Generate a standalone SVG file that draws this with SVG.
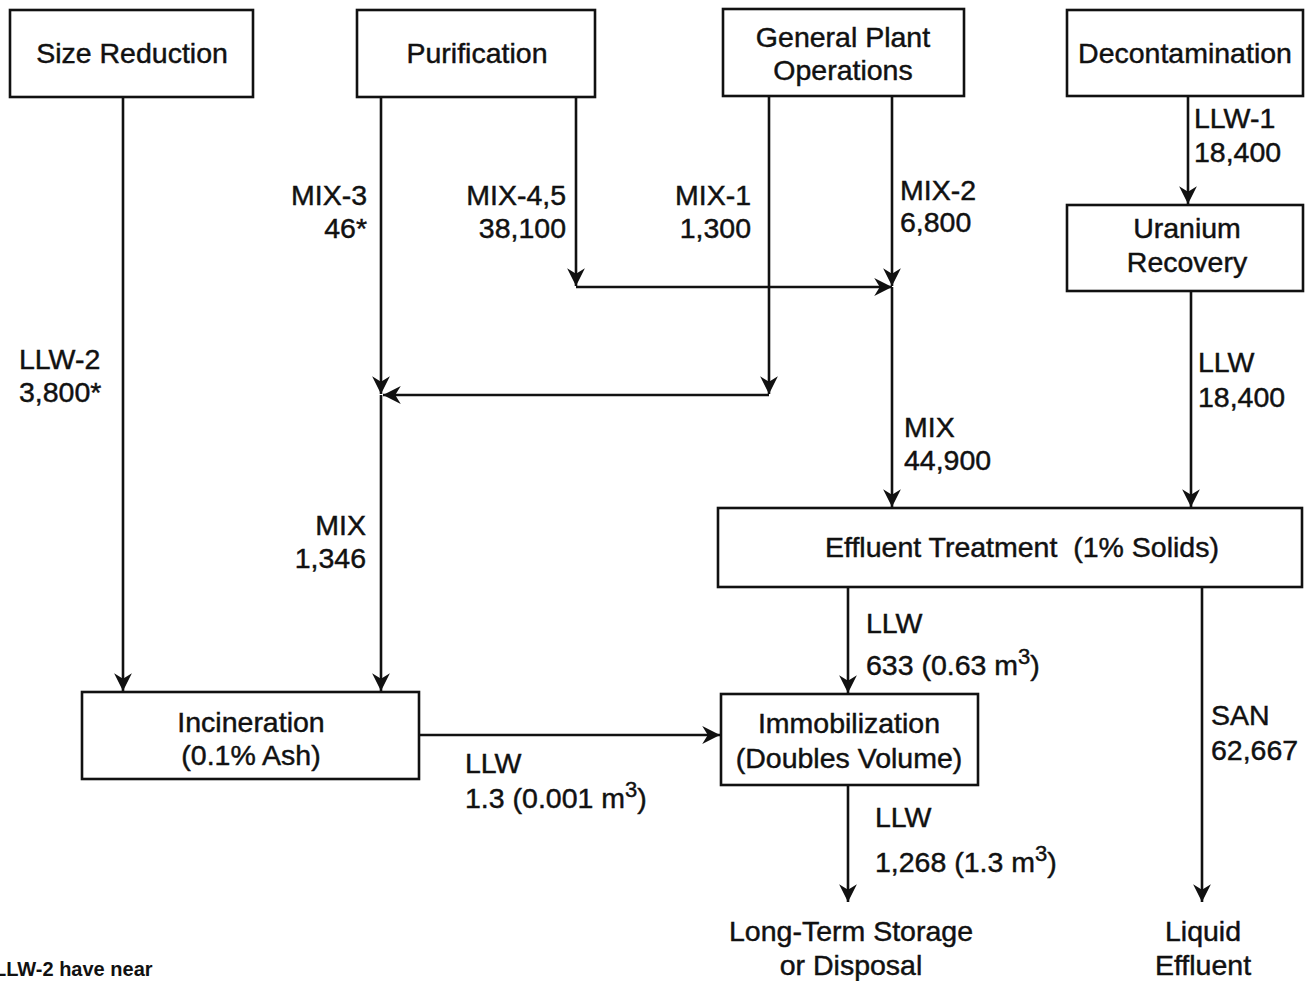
<svg xmlns="http://www.w3.org/2000/svg" width="1305" height="981" viewBox="0 0 1305 981">
<style>
text{font-family:"Liberation Sans",Arial,sans-serif;font-size:28.5px;fill:#111;stroke:#111;stroke-width:0.45}
.box{fill:#fff;stroke:#111;stroke-width:2.6}
.c{text-anchor:middle}
.e{text-anchor:end}
.ln{stroke:#111;stroke-width:2.6;fill:none}
.a{marker-end:url(#arr)}
.sup{font-size:22px}
.note{font-size:20px;font-weight:bold;stroke-width:0}
</style>
<defs>
<marker id="arr" markerUnits="userSpaceOnUse" markerWidth="20" markerHeight="20" viewBox="-16 -9 18 18" refX="1" refY="0" orient="auto">
<path d="M-15,-8 L1,0 L-15,8 L-10,0 Z" fill="#111"/>
</marker>
</defs>
<rect width="1305" height="981" fill="#fff"/>
<g id="connectors">
<line class="ln a" x1="123" y1="97" x2="123" y2="691"/>
<line class="ln a" x1="381" y1="97" x2="381" y2="394"/>
<line class="ln a" x1="381" y1="395" x2="381" y2="691"/>
<line class="ln a" x1="576" y1="97" x2="576" y2="286"/>
<line class="ln a" x1="576" y1="287" x2="892" y2="287"/>
<line class="ln a" x1="769" y1="96" x2="769" y2="394"/>
<line class="ln a" x1="769" y1="395" x2="383" y2="395"/>
<line class="ln a" x1="892" y1="96" x2="892" y2="286"/>
<line class="ln a" x1="892" y1="287" x2="892" y2="507"/>
<line class="ln a" x1="1188" y1="96" x2="1188" y2="204"/>
<line class="ln a" x1="1191" y1="291" x2="1191" y2="507"/>
<line class="ln a" x1="848" y1="587" x2="848" y2="693"/>
<line class="ln a" x1="1202" y1="587" x2="1202" y2="902"/>
<line class="ln a" x1="419" y1="735" x2="720" y2="735"/>
<line class="ln a" x1="848" y1="785" x2="848" y2="902"/>
</g>
<g id="size-reduction"><rect class="box" x="10" y="10" width="243" height="87"/><text class="c" x="132" y="63">Size Reduction</text></g>
<g id="purification"><rect class="box" x="357" y="10" width="238" height="87"/><text class="c" x="477" y="63">Purification</text></g>
<g id="general-plant"><rect class="box" x="723" y="9" width="241" height="87"/><text class="c" x="843" y="47">General Plant</text><text class="c" x="843" y="80">Operations</text></g>
<g id="decontamination"><rect class="box" x="1067" y="10" width="236" height="86"/><text class="c" x="1185" y="63">Decontamination</text></g>
<g id="uranium-recovery"><rect class="box" x="1067" y="205" width="236" height="86"/><text class="c" x="1187" y="238">Uranium</text><text class="c" x="1187" y="272">Recovery</text></g>
<g id="effluent-treatment"><rect class="box" x="718" y="508" width="584" height="79"/><text class="c" x="1022" y="557" style="white-space:pre">Effluent Treatment  (1% Solids)</text></g>
<g id="incineration"><rect class="box" x="82" y="692" width="337" height="87"/><text class="c" x="251" y="732">Incineration</text><text class="c" x="251" y="765">(0.1% Ash)</text></g>
<g id="immobilization"><rect class="box" x="721" y="694" width="257" height="91"/><text class="c" x="849" y="733">Immobilization</text><text class="c" x="849" y="768">(Doubles Volume)</text></g>
<g id="long-term-storage"><text class="c" x="851" y="941">Long-Term Storage</text><text class="c" x="851" y="975">or Disposal</text></g>
<g id="liquid-effluent"><text class="c" x="1203" y="941">Liquid</text><text class="c" x="1203" y="975">Effluent</text></g>
<g id="labels">
<text x="19" y="369">LLW-2</text><text x="19" y="402">3,800*</text>
<text class="e" x="367" y="205">MIX-3</text><text class="e" x="367" y="238">46*</text>
<text class="e" x="566" y="205">MIX-4,5</text><text class="e" x="566" y="238">38,100</text>
<text class="e" x="751" y="205">MIX-1</text><text class="e" x="751" y="238">1,300</text>
<text x="900" y="200">MIX-2</text><text x="900" y="232">6,800</text>
<text x="1194" y="128">LLW-1</text><text x="1194" y="162">18,400</text>
<text x="1198" y="372">LLW</text><text x="1198" y="407">18,400</text>
<text x="904" y="437">MIX</text><text x="904" y="470">44,900</text>
<text class="e" x="366" y="535">MIX</text><text class="e" x="366" y="568">1,346</text>
<text x="866" y="633">LLW</text><text x="866" y="675">633 (0.63 m<tspan class="sup" dy="-11">3</tspan><tspan dy="11">)</tspan></text>
<text x="1211" y="725">SAN</text><text x="1211" y="760">62,667</text>
<text x="465" y="773">LLW</text><text x="465" y="808">1.3 (0.001 m<tspan class="sup" dy="-11">3</tspan><tspan dy="11">)</tspan></text>
<text x="875" y="827">LLW</text><text x="875" y="872">1,268 (1.3 m<tspan class="sup" dy="-11">3</tspan><tspan dy="11">)</tspan></text>
<text class="note" x="-6" y="976">LLW-2 have near</text>
</g>
</svg>
